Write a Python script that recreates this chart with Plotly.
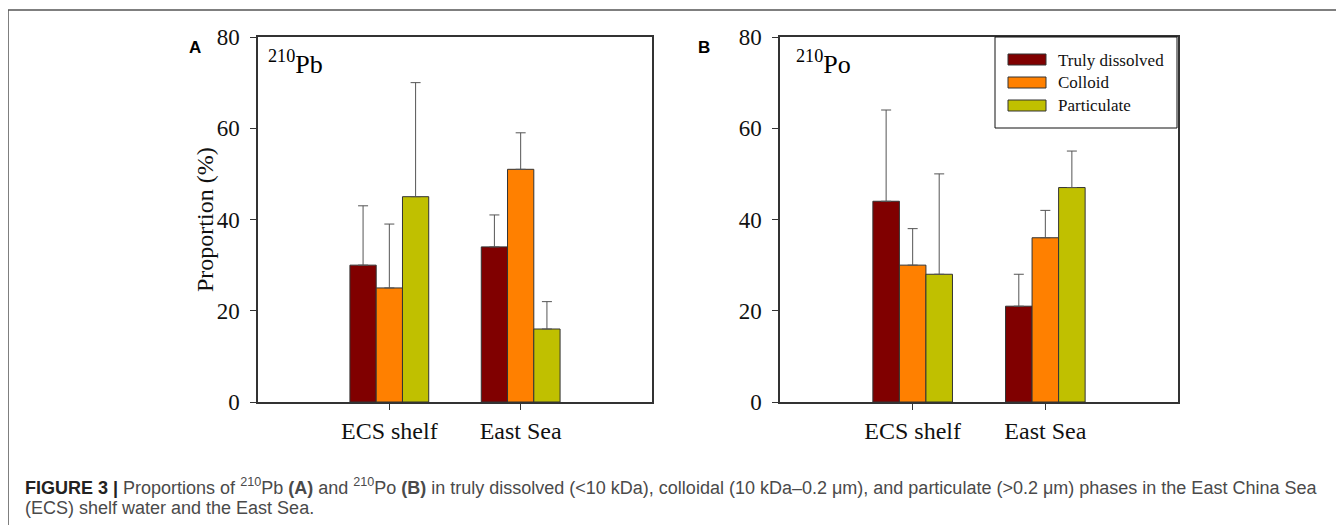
import plotly.graph_objects as go

W, H = 1344, 525
OFF = 8  # page body margin offset

categories = ["ECS shelf", "East Sea"]
series_names = ["Truly dissolved", "Colloid", "Particulate"]
colors = ["#800000", "#FF8000", "#C0C000"]

# Panel A: 210Pb
pb_values = {"Truly dissolved": [30, 34], "Colloid": [25, 51], "Particulate": [45, 16]}
pb_errors = {"Truly dissolved": [13, 7], "Colloid": [14, 8], "Particulate": [25, 6]}
# Panel B: 210Po
po_values = {"Truly dissolved": [44, 21], "Colloid": [30, 36], "Particulate": [28, 47]}
po_errors = {"Truly dissolved": [20, 7], "Colloid": [8, 6], "Particulate": [22, 8]}

y_ticks = [0, 20, 40, 60, 80]


def px_x(p):
    return (p - OFF) / W


def px_y(p):
    return 1 - (p - OFF) / H


fig = go.Figure()
for panel, (vals, errs) in enumerate([(pb_values, pb_errors), (po_values, po_errors)]):
    xa = "x" if panel == 0 else "x2"
    ya = "y" if panel == 0 else "y2"
    for name, col in zip(series_names, colors):
        fig.add_trace(go.Bar(
            x=categories, y=vals[name], name=name, xaxis=xa, yaxis=ya,
            marker=dict(color=col, line=dict(color="#333333", width=1)),
            error_y=dict(type="data", array=errs[name], arrayminus=[0] * len(errs[name]),
                         symmetric=False, color="#555555", thickness=1, width=5),
            showlegend=False,
        ))

serif = "Liberation Serif, Times New Roman, serif"
ytick_font = dict(family=serif, size=23, color="#111111")
xtick_font = dict(family=serif, size=24, color="#111111")
axis_common = dict(showline=True, linecolor="#333333", linewidth=1.5, mirror=True,
                   ticks="outside", tickcolor="#333333", ticklen=6, showgrid=False,
                   zeroline=False, automargin=False)

dom_a = [px_x(258), px_x(652)]
dom_b = [px_x(780), px_x(1178)]
dom_y = [px_y(402), px_y(37)]

fig.update_layout(
    template="none",
    width=W, height=H, autosize=False,
    margin=dict(l=0, r=0, t=0, b=0, pad=0),
    paper_bgcolor="white", plot_bgcolor="white",
    showlegend=False,
    font=dict(family=serif),
    barmode="group", bargap=0.4, bargroupgap=0,
    xaxis=dict(domain=dom_a, anchor="y", range=[-1, 2], tickfont=xtick_font, **axis_common),
    yaxis=dict(domain=dom_y, anchor="x", range=[0, 80], tickvals=y_ticks, tickfont=ytick_font, ticklabelstandoff=6, **axis_common),
    xaxis2=dict(domain=dom_b, anchor="y2", range=[-1, 2], tickfont=xtick_font, **axis_common),
    yaxis2=dict(domain=dom_y, anchor="x2", range=[0, 80], tickvals=y_ticks, tickfont=ytick_font, ticklabelstandoff=6, **axis_common),
)

shapes = []
annotations = []

# outer frame (top and left)
shapes.append(dict(type="line", xref="paper", yref="paper", x0=px_x(8), x1=1.0, y0=px_y(10), y1=px_y(10),
                   line=dict(color="#555555", width=1.5)))
shapes.append(dict(type="line", xref="paper", yref="paper", x0=px_x(8), x1=px_x(8), y0=px_y(10), y1=0,
                   line=dict(color="#555555", width=1.5)))

# y axis title
annotations.append(dict(text="Proportion (%)", xref="paper", yref="paper", x=px_x(190), y=px_y(220),
                        textangle=-90, showarrow=False, font=dict(family=serif, size=24, color="#111111")))

# panel letters
for letter, xp in [("A", 187), ("B", 704)]:
    annotations.append(dict(text="<b>%s</b>" % letter, xref="paper", yref="paper", x=px_x(xp), y=px_y(36),
                            showarrow=False, font=dict(family="Liberation Sans", size=17, color="#000000")))

# isotope labels
for label, xp in [("<sup>210</sup>Pb", 266), ("<sup>210</sup>Po", 794)]:
    annotations.append(dict(text=label, xref="paper", yref="paper", x=px_x(xp), y=px_y(44),
                            xanchor="left", yanchor="top", showarrow=False,
                            font=dict(family=serif, size=26, color="#000000")))

# legend (panel B)
shapes.append(dict(type="rect", xref="paper", yref="paper", x0=px_x(995), x1=px_x(1177), y0=px_y(37), y1=px_y(128),
                   line=dict(color="#111111", width=1), fillcolor="white"))
for i, (name, col) in enumerate(zip(series_names, colors)):
    yc = 60 + i * 23
    shapes.append(dict(type="rect", xref="paper", yref="paper", x0=px_x(1008), x1=px_x(1046),
                       y0=px_y(yc - 6), y1=px_y(yc + 5), fillcolor=col, line=dict(color="#333333", width=1)))
    annotations.append(dict(text=name, xref="paper", yref="paper", x=px_x(1056), y=px_y(yc),
                            xanchor="left", yanchor="middle", showarrow=False,
                            font=dict(family=serif, size=17, color="#111111")))

# caption
cap1 = ("<span style='color:#222222'><b>FIGURE 3 |</b></span> Proportions of <sup>210</sup>Pb <b>(A)</b> and "
        "<sup>210</sup>Po <b>(B)</b> in truly dissolved "
        "(&lt;10 kDa), colloidal (10 kDa–0.2 μm), and particulate (&gt;0.2 μm) phases in the East China Sea")
cap2 = "(ECS) shelf water and the East Sea."
annotations.append(dict(text=cap1, xref="paper", yref="paper", x=px_x(23), y=px_y(486), xanchor="left",
                        yanchor="middle", showarrow=False, font=dict(family="Liberation Sans", size=18, color="#4a4a4a")))
annotations.append(dict(text=cap2, xref="paper", yref="paper", x=px_x(23), y=px_y(508), xanchor="left",
                        yanchor="middle", showarrow=False, font=dict(family="Liberation Sans", size=18, color="#4a4a4a")))

fig.update_layout(shapes=shapes, annotations=annotations)
fig.write_html("out.html")
